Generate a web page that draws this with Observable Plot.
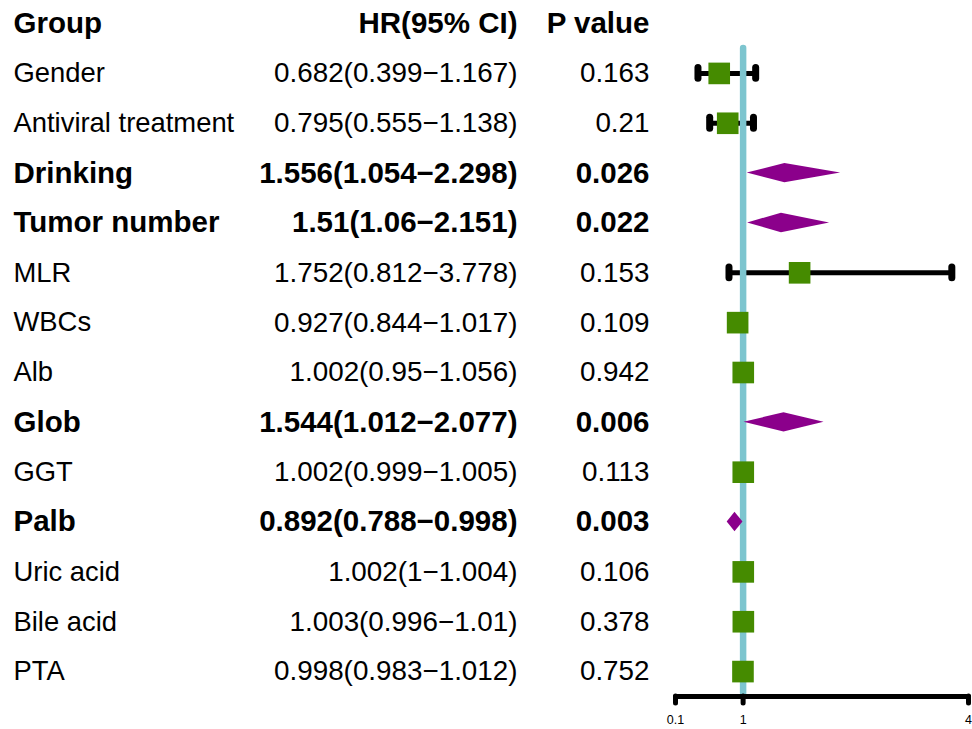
<!DOCTYPE html>
<html>
<head>
<meta charset="utf-8">
<script src="https://cdn.jsdelivr.net/npm/d3@7"></script>
<script src="https://cdn.jsdelivr.net/npm/@observablehq/plot@0.6"></script>
<style>
  html, body { margin: 0; padding: 0; background: #fff; }
  svg { display: block; }
</style>
</head>
<body>
<div id="chart"></div>
<script>
// Multivariate Cox regression results, one entry per variable
const groups = ["Gender", "Antiviral treatment", "Drinking", "Tumor number", "MLR", "WBCs",
  "Alb", "Glob", "GGT", "Palb", "Uric acid", "Bile acid", "PTA"];
const hr    = [0.682, 0.795, 1.556, 1.51, 1.752, 0.927, 1.002, 1.544, 1.002, 0.892, 1.002, 1.003, 0.998];
const lower = [0.399, 0.555, 1.054, 1.06, 0.812, 0.844, 0.95, 1.012, 0.999, 0.788, 1, 0.996, 0.983];
const upper = [1.167, 1.138, 2.298, 2.151, 3.778, 1.017, 1.056, 2.077, 1.005, 0.998, 1.004, 1.01, 1.012];
const pValues = [0.163, 0.21, 0.026, 0.022, 0.153, 0.109, 0.942, 0.006, 0.113, 0.003, 0.106, 0.378, 0.752];
const headers = ["Group", "HR(95% CI)", "P value"];
const axisTicks = [0.1, 1, 4];

const rows = groups.map((group, i) => ({
  group,
  hr: hr[i],
  lower: lower[i],
  upper: upper[i],
  p: pValues[i],
  ci: `${hr[i]}(${lower[i]}\u2212${upper[i]})`,
  sig: pValues[i] < 0.05
}));
const plain = rows.filter(d => !d.sig);
const significant = rows.filter(d => d.sig);

const FONT = "'Liberation Sans', Arial, Helvetica, sans-serif";
const LABEL_SIZE = 27.4;
const REGULAR = 27.8;
const BOLD = 29.5;
const DIAMOND_HALF_HEIGHT = 9.7;

// Column positions are offsets from the left edge of the plotting frame
const COL_GROUP = -662;
const COL_HR = -158;
const COL_P = -26;

function textColumns(data, weight, size, labelSize) {
  const common = {y: "group", frameAnchor: "left", lineAnchor: "middle", fontWeight: weight, fill: "black"};
  return [
    Plot.text(data, {...common, fontSize: labelSize, text: "group", textAnchor: "start", dx: COL_GROUP}),
    Plot.text(data, {...common, fontSize: size, text: "ci", textAnchor: "end", dx: COL_HR}),
    Plot.text(data, {...common, fontSize: size, text: d => String(d.p), textAnchor: "end", dx: COL_P})
  ];
}

const headerCols = [
  {label: headers[0], anchor: "start", dx: COL_GROUP},
  {label: headers[1], anchor: "end", dx: COL_HR},
  {label: headers[2], anchor: "end", dx: COL_P}
];

const capStyle = {stroke: "black", strokeWidth: 7, strokeLinecap: "round", insetTop: 19.5, insetBottom: 19.5};

const chart = Plot.plot({
  width: 972,
  height: 729,
  marginLeft: 675,
  marginRight: 4,
  marginTop: 48,
  marginBottom: 33,
  style: {fontFamily: FONT, background: "#fff", color: "black", overflow: "visible"},
  x: {type: "linear", domain: [0.1, 4]},
  y: {type: "band", domain: groups, padding: 0, round: false, axis: null},
  marks: [
    // confidence interval whiskers with rounded end caps
    Plot.ruleY(plain, {y: "group", x1: "lower", x2: "upper", stroke: "black", strokeWidth: 5}),
    Plot.tickX(plain, {x: "lower", y: "group", ...capStyle}),
    Plot.tickX(plain, {x: "upper", y: "group", ...capStyle}),
    // line of no effect
    Plot.ruleX([1], {stroke: "#7dc5cf", strokeWidth: 6.5, strokeLinecap: "round", insetBottom: 3}),
    // x axis
    Plot.frame({anchor: "bottom", stroke: "black", strokeWidth: 5, strokeLinecap: "round"}),
    Plot.axisX({ticks: axisTicks, tickFormat: d => String(d), tickSize: 7, tickPadding: 12,
      stroke: "black", strokeWidth: 5, strokeLinecap: "round", fontSize: 12.5, label: null}),
    // point estimates: squares for non-significant, diamonds spanning the CI for significant
    Plot.dot(plain, {x: "hr", y: "group", symbol: "square", r: 12.2, fill: "#458B00", stroke: null}),
    Plot.dot(significant, {
      x: "hr", y: "group", fill: "#8B008B",
      render(index, scales, values) {
        // band start + half a band gives the row centre
        const half = (scales.y(groups[1]) - scales.y(groups[0])) / 2;
        const g = d3.create("svg:g").attr("fill", "#8B008B");
        for (const i of index) {
          const cx = values.x[i];
          const cy = scales.y(significant[i].group) + half;
          const xl = scales.x(significant[i].lower);
          const xu = scales.x(significant[i].upper);
          g.append("path").attr("d",
            `M${xl},${cy}L${cx},${cy - DIAMOND_HALF_HEIGHT}L${xu},${cy}L${cx},${cy + DIAMOND_HALF_HEIGHT}Z`);
        }
        return g.node();
      }
    }),
    // table columns
    ...textColumns(plain, "normal", REGULAR, LABEL_SIZE),
    ...textColumns(significant, "bold", BOLD, BOLD),
    ...headerCols.map(h => Plot.text([h.label], {
      text: d => d, frameAnchor: "top-left", lineAnchor: "middle", textAnchor: h.anchor,
      dx: h.dx, dy: -25, fontSize: BOLD, fontWeight: "bold", fill: "black"
    }))
  ]
});

document.getElementById("chart").append(chart);
</script>
</body>
</html>
